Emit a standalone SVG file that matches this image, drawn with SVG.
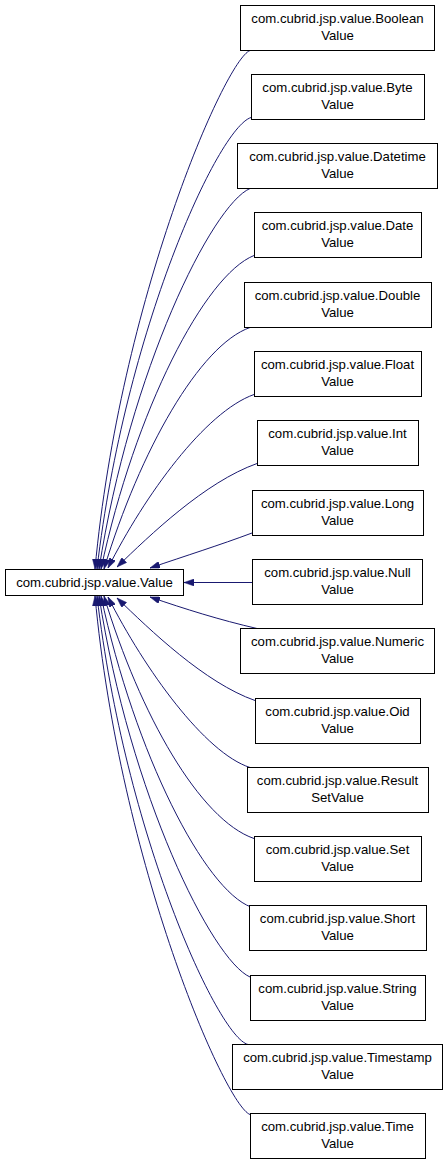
<svg xmlns="http://www.w3.org/2000/svg" width="448" height="1165" viewBox="0 0 448 1165">
<style>
.n rect{fill:#fff;stroke:#000;stroke-width:1}
.n text{font-family:"Liberation Sans",Arial,sans-serif;font-size:13.2px;fill:#000;text-anchor:middle}
.e path{fill:none;stroke:#191970;stroke-width:1;marker-end:url(#ah)}
</style>
<defs>
<marker id="ah" markerUnits="userSpaceOnUse" markerWidth="10" markerHeight="7" viewBox="0 0 10 7" refX="10" refY="3.5" orient="auto">
<path d="M0,0 L10,3.5 L0,7 Z" fill="#191970" stroke="#191970" stroke-width="0.5"/>
</marker>
</defs>
<g id="edges" class="e">
<path d="M250,50.5 C225,60 120,300 95,569"/>
<path d="M251,117.5 C218,128 125,330 97,569"/>
<path d="M250,188.5 C212,205 130,370 99,569"/>
<path d="M254,255.5 C205,275 135,410 101,569"/>
<path d="M250,327.5 C200,345 140,450 104,569"/>
<path d="M254,394.5 C205,412 145,495 108,568"/>
<path d="M257,463.5 C205,482 150,535 117,567"/>
<path d="M252,533 C220,545 185,556 150,568"/>
<path d="M252,582.5 L184,582.5"/>
<path d="M257,628.5 C220,620 185,609 150,597"/>
<path d="M255,700.5 C205,683 150,630 117,598"/>
<path d="M250,767.5 C205,753 145,670 108,597"/>
<path d="M254,838.5 C200,820 140,715 104,596"/>
<path d="M251,907 C205,890 135,755 101,596"/>
<path d="M250,977 C212,960 130,795 99,596"/>
<path d="M248,1044.5 C218,1037 125,835 97,596"/>
<path d="M250,1114.5 C225,1105 120,865 95,596"/>
</g>
<g id="root" class="n"><rect x="5.5" y="569.5" width="178" height="26"/><text x="94.5" y="587">com.cubrid.jsp.value.Value</text></g>
<g id="boolean" class="n"><rect x="240.5" y="5.5" width="194" height="45"/><text x="337.5" y="22.5">com.cubrid.jsp.value.Boolean</text><text x="337.5" y="39.5">Value</text></g>
<g id="byte" class="n"><rect x="251.5" y="74.5" width="173" height="45"/><text x="337.5" y="91.5">com.cubrid.jsp.value.Byte</text><text x="337.5" y="108.5">Value</text></g>
<g id="datetime" class="n"><rect x="237.5" y="143.5" width="200" height="45"/><text x="337.5" y="160.5">com.cubrid.jsp.value.Datetime</text><text x="337.5" y="177.5">Value</text></g>
<g id="date" class="n"><rect x="254.5" y="212.5" width="167" height="45"/><text x="337.5" y="229.5">com.cubrid.jsp.value.Date</text><text x="337.5" y="246.5">Value</text></g>
<g id="double" class="n"><rect x="244.5" y="282.5" width="187" height="45"/><text x="337.5" y="299.5">com.cubrid.jsp.value.Double</text><text x="337.5" y="316.5">Value</text></g>
<g id="float" class="n"><rect x="254.5" y="351.5" width="167" height="45"/><text x="337.5" y="368.5">com.cubrid.jsp.value.Float</text><text x="337.5" y="385.5">Value</text></g>
<g id="int" class="n"><rect x="257.5" y="420.5" width="161" height="45"/><text x="337.5" y="437.5">com.cubrid.jsp.value.Int</text><text x="337.5" y="454.5">Value</text></g>
<g id="long" class="n"><rect x="252.5" y="490.5" width="171" height="45"/><text x="337.5" y="507.5">com.cubrid.jsp.value.Long</text><text x="337.5" y="524.5">Value</text></g>
<g id="null" class="n"><rect x="252.5" y="559.5" width="170" height="45"/><text x="337.5" y="576.5">com.cubrid.jsp.value.Null</text><text x="337.5" y="593.5">Value</text></g>
<g id="numeric" class="n"><rect x="240.5" y="628.5" width="194" height="45"/><text x="337.5" y="645.5">com.cubrid.jsp.value.Numeric</text><text x="337.5" y="662.5">Value</text></g>
<g id="oid" class="n"><rect x="255.5" y="698.5" width="165" height="45"/><text x="337.5" y="715.5">com.cubrid.jsp.value.Oid</text><text x="337.5" y="732.5">Value</text></g>
<g id="resultset" class="n"><rect x="247.5" y="767.5" width="181" height="45"/><text x="337.5" y="784.5">com.cubrid.jsp.value.Result</text><text x="337.5" y="801.5">SetValue</text></g>
<g id="set" class="n"><rect x="254.5" y="836.5" width="167" height="45"/><text x="337.5" y="853.5">com.cubrid.jsp.value.Set</text><text x="337.5" y="870.5">Value</text></g>
<g id="short" class="n"><rect x="249.5" y="905.5" width="177" height="45"/><text x="337.5" y="922.5">com.cubrid.jsp.value.Short</text><text x="337.5" y="939.5">Value</text></g>
<g id="string" class="n"><rect x="250.5" y="975.5" width="175" height="45"/><text x="337.5" y="992.5">com.cubrid.jsp.value.String</text><text x="337.5" y="1009.5">Value</text></g>
<g id="timestamp" class="n"><rect x="232.5" y="1044.5" width="210" height="45"/><text x="337.5" y="1061.5">com.cubrid.jsp.value.Timestamp</text><text x="337.5" y="1078.5">Value</text></g>
<g id="time" class="n"><rect x="250.5" y="1113.5" width="175" height="45"/><text x="337.5" y="1130.5">com.cubrid.jsp.value.Time</text><text x="337.5" y="1147.5">Value</text></g>
</svg>
